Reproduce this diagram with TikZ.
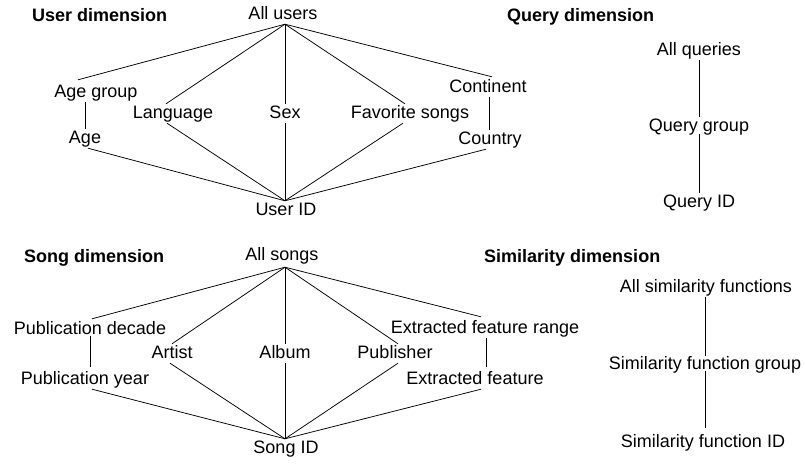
\documentclass[tikz,border=0pt]{standalone}
\usepackage{fontspec}
\setmainfont{Liberation Sans}
\begin{document}
\begin{tikzpicture}[x=1pt,y=-1pt,
  lbl/.style={anchor=base,inner sep=1pt,text height=13pt,text depth=4pt,font=\fontsize{18}{21}\selectfont},
  ttl/.style={anchor=base west,inner sep=0pt,font=\fontsize{18}{21}\selectfont\bfseries},
  edge/.style={draw=black,line width=0.75pt}]
\useasboundingbox (0,0) rectangle (805,463);
% titles
\node[ttl] (ut) at (32,21) {User dimension};
\node[ttl] (qt) at (507,21) {Query dimension};
\node[ttl] (st) at (24,262) {Song dimension};
\node[ttl] (simt) at (484,262) {Similarity dimension};
% user dimension
\node[lbl] (au) at (283,19) {All users};
\node[lbl] (ag) at (96,97) {Age group};
\node[lbl] (age) at (85,143) {Age};
\node[lbl] (lang) at (173,118) {Language};
\node[lbl] (sex) at (285,118) {Sex};
\node[lbl] (fav) at (410,118) {Favorite songs};
\node[lbl] (cont) at (488,92) {Continent};
\node[lbl] (ctry) at (490,144) {Country};
\node[lbl] (uid) at (286,215) {User ID};
\coordinate (utop) at ([xshift=2pt]au.south);
\coordinate (ubot) at ([xshift=-1pt]uid.north);
\draw[edge] (utop) -- ([xshift=-18pt,yshift=3pt]ag.north);
\draw[edge] ([xshift=-11pt]ag.south) -- (age.north);
\draw[edge] ([xshift=3pt]age.south) -- (ubot);
\draw[edge] (utop) -- ([xshift=-7pt]lang.north);
\draw[edge] ([xshift=-6pt]lang.south) -- (ubot);
\draw[edge] (utop) -- (sex.north);
\draw[edge] (sex.south) -- (ubot);
\draw[edge] (utop) -- ([xshift=-5pt]fav.north);
\draw[edge] ([xshift=-7pt]fav.south) -- (ubot);
\draw[edge] (utop) -- ([xshift=4pt,yshift=1pt]cont.north);
\draw[edge] ([xshift=1pt]cont.south) -- ([xshift=1pt]cont.south |- ctry.north);
\draw[edge] ([xshift=-4pt]ctry.south) -- (ubot);
% query dimension
\node[lbl] (aq) at (699,55) {All queries};
\node[lbl] (qg) at (699,131) {Query group};
\node[lbl] (qid) at (699,207) {Query ID};
\draw[edge] (aq.south) -- (qg.north);
\draw[edge] ([yshift=2pt]qg.south) -- (qid.north);
% song dimension
\node[lbl] (as) at (282,260) {All songs};
\node[lbl] (pd) at (90,334) {Publication decade};
\node[lbl] (py) at (85,384) {Publication year};
\node[lbl] (art) at (172,358) {Artist};
\node[lbl] (alb) at (285,358) {Album};
\node[lbl] (pub) at (395,358) {Publisher};
\node[lbl] (efr) at (485,333) {Extracted feature range};
\node[lbl] (ef) at (475,384) {Extracted feature};
\node[lbl] (sid) at (286,453) {Song ID};
\coordinate (stop) at ([xshift=3pt,yshift=-2pt]as.south);
\coordinate (sbot) at ([xshift=-1pt]sid.north);
\draw[edge] (stop) -- ([xshift=2pt,yshift=1pt]pd.north);
\draw[edge] ([yshift=3pt]pd.south) -- ([yshift=3pt]pd.south |- py.north);
\draw[edge] ([xshift=7pt]py.south) -- (sbot);
\draw[edge] (stop) -- (art.north);
\draw[edge] ([xshift=-2pt]art.south) -- (sbot);
\draw[edge] (stop) -- (alb.north);
\draw[edge] (alb.south) -- (sbot);
\draw[edge] (stop) -- ([xshift=3pt]pub.north);
\draw[edge] ([xshift=3pt]pub.south) -- (sbot);
\draw[edge] (stop) -- ([xshift=-4pt,yshift=2pt]efr.north);
\draw[edge] ([xshift=1pt]efr.south) -- ([xshift=1pt,yshift=3pt]efr.south |- ef.north);
\draw[edge] ([xshift=6pt]ef.south) -- (sbot);
% similarity dimension
\node[lbl] (asf) at (706,292) {All similarity functions};
\node[lbl] (sfg) at (705,369) {Similarity function group};
\node[lbl] (sfid) at (703,447) {Similarity function ID};
\draw[edge] ([xshift=-1pt]asf.south) -- ([yshift=-1pt]sfg.north);
\draw[edge] ([yshift=3pt]sfg.south) -- ([xshift=2pt,yshift=5pt]sfid.north);
\end{tikzpicture}
\end{document}
